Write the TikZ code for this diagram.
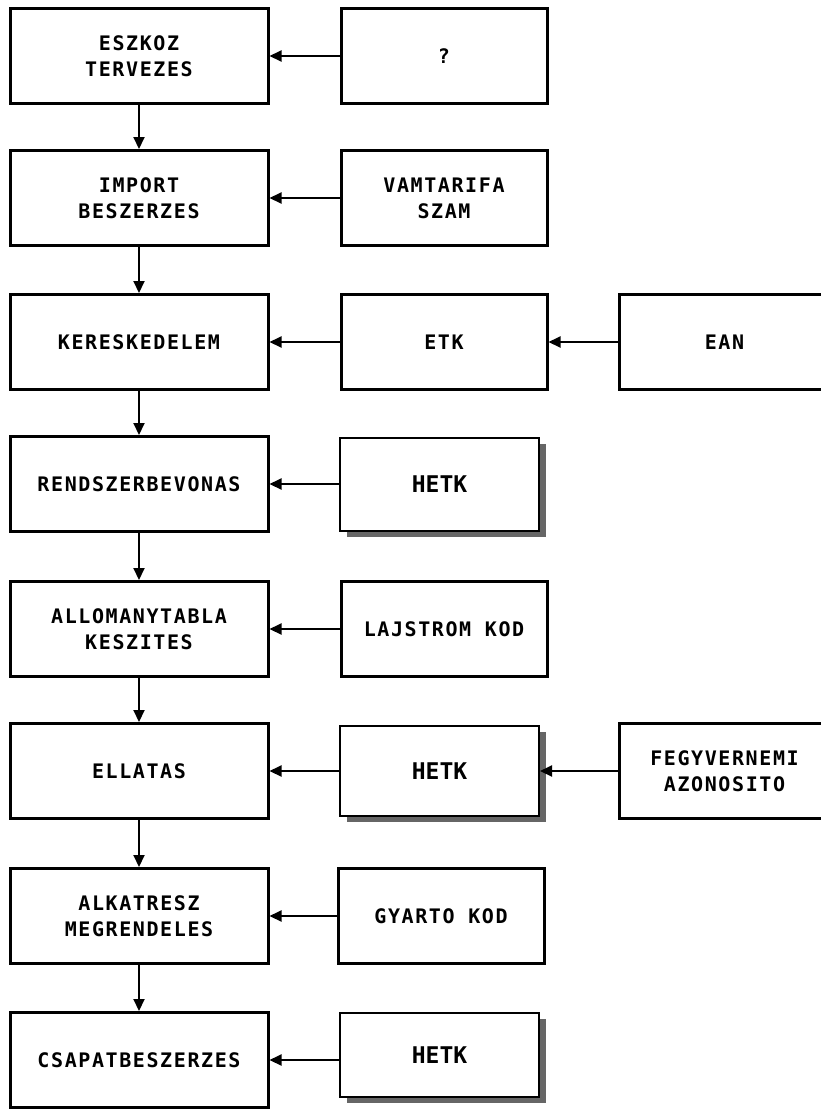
\documentclass[tikz,border=0pt]{standalone}
\usepackage{fontspec}
\newfontfamily\boxfont[LetterSpace=8]{DejaVu Sans Mono}
\newfontfamily\hetkfont{DejaVu Sans Mono}
\usetikzlibrary{arrows.meta,shadows}
\tikzset{
  box/.style={draw, line width=3pt, fill=white, inner sep=0pt, align=center,
    font=\boxfont\bfseries\fontsize{20}{26}\selectfont},
  colA/.style={box, minimum width=258pt, minimum height=95pt},
  colB/.style={box, minimum width=206pt, minimum height=95pt},
  colC/.style={box, minimum width=211pt, minimum height=95pt},
  hetk/.style={draw, line width=2pt, fill=white, inner sep=0pt,
    minimum width=199pt,
    font=\hetkfont\bfseries\fontsize{23}{26}\selectfont,
    drop shadow={shadow xshift=7pt, shadow yshift=-6pt, fill=black!60, opacity=1}},
  conn/.style={line width=2pt, -{Triangle[width=11pt,length=12pt]}}
}
\begin{document}
\begin{tikzpicture}[x=1pt,y=-1pt]
\clip (0,0) rectangle (821,1109);
\fill[white] (0,0) rectangle (821,1109);
% left column
\node[colA] (a1) at (139,56) {ESZKOZ\\TERVEZES};
\node[colA] (a2) at (139,198) {IMPORT\\BESZERZES};
\node[colA] (a3) at (139,342) {KERESKEDELEM};
\node[colA] (a4) at (139,484) {RENDSZERBEVONAS};
\node[colA] (a5) at (139,629) {ALLOMANYTABLA\\KESZITES};
\node[colA] (a6) at (139,771) {ELLATAS};
\node[colA] (a7) at (139,916) {ALKATRESZ\\MEGRENDELES};
\node[colA] (a8) at (139,1060) {CSAPATBESZERZES};
% middle column
\node[colB] (b1) at (444,56) {?};
\node[colB] (b2) at (444,198) {VAMTARIFA\\SZAM};
\node[colB] (b3) at (444,342) {ETK};
\node[hetk, minimum height=93pt] (b4) at (439.5,484) {HETK};
\node[colB] (b5) at (444,629) {LAJSTROM KOD};
\node[hetk, minimum height=90pt] (b6) at (439.5,771) {HETK};
\node[colB] (b7) at (441,916) {GYARTO KOD};
\node[hetk, minimum height=84pt] (b8) at (439.5,1055) {HETK};
% right column
\node[colC] (c3) at (724.5,342) {EAN};
\node[colC] (c6) at (724.5,771) {FEGYVERNEMI\\AZONOSITO};
% vertical connectors
\foreach \i/\j in {1/2,2/3,3/4,4/5,5/6,6/7,7/8}
  \draw[conn] (a\i.south) -- (a\j.north);
% horizontal connectors
\foreach \i in {1,2,3,5,7}
  \draw[conn] (b\i.west) -- (a\i.east);
\draw[conn] (b4.west) -- (a4.east);
\draw[conn] (b6.west) -- (a6.east);
\draw[conn] (b8.west |- a8.east) -- (a8.east);
\draw[conn] (c3.west) -- (b3.east);
\draw[conn] (c6.west) -- (b6.east);
\end{tikzpicture}
\end{document}
